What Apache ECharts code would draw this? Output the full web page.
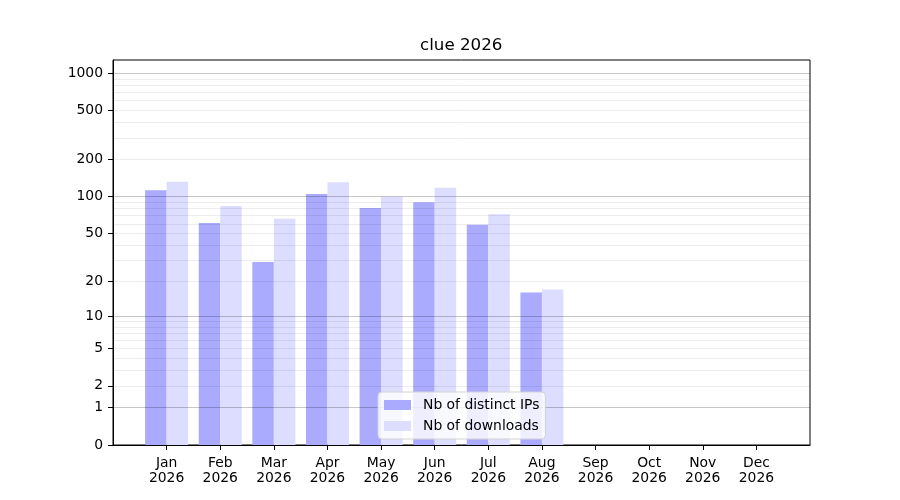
<!DOCTYPE html>
<html>
<head>
<meta charset="utf-8">
<script src="https://cdn.jsdelivr.net/npm/echarts@6/dist/echarts.min.js"></script>
<style>
  html, body { margin: 0; padding: 0; background: #fff; }
  #chart { width: 900px; height: 500px; }
</style>
</head>
<body>
<div id="chart"></div>
<script>
const months = ['Jan', 'Feb', 'Mar', 'Apr', 'May', 'Jun', 'Jul', 'Aug', 'Sep', 'Oct', 'Nov', 'Dec'];
const year = '2026';
const distinctIPs = [113, 61, 29, 105, 81, 90, 59, 16];
const downloads = [132, 84, 66, 131, 100, 118, 72, 17];
const labelTicks = [0, 1, 2, 5, 10, 20, 50, 100, 200, 500, 1000];
const majorGrid = [1, 10, 100, 1000];
const minorGrid = [2, 3, 4, 5, 6, 7, 8, 9, 20, 30, 40, 50, 60, 70, 80, 90, 200, 300, 400, 500, 600, 700, 800, 900];
const yTop = 1280;

// y scale is log10(v + 1)
const fwd = v => Math.log10(v + 1);
const back = t => Math.round(Math.pow(10, t) - 1);

// pad one empty slot each side so months sit one unit in from the frame
const cats = [''].concat(months, ['']);
const pad = arr => {
  const out = [null];
  months.forEach((m, i) => out.push(i < arr.length ? fwd(arr[i]) : null));
  out.push(null);
  return out;
};

const font = 'DejaVu Sans';
const chart = echarts.init(document.getElementById('chart'));

const hiddenAxis = (vals, color) => ({
  type: 'value', min: 0, max: fwd(yTop), position: 'left', z: 3,
  axisLine: { show: false },
  axisTick: { show: false, customValues: vals.map(fwd) },
  axisLabel: { show: false },
  splitLine: { show: true, lineStyle: { color: color, width: 1 } }
});

chart.setOption({
  animation: false,
  title: {
    text: 'clue ' + year,
    left: 420, top: 37, padding: 0,
    textStyle: { fontFamily: font, fontSize: 16.7, fontWeight: 'normal', color: '#000' }
  },
  legend: {
    orient: 'vertical',
    left: 378, top: 392,
    padding: [5, 6, 5, 6],
    itemWidth: 27, itemHeight: 10, itemGap: 5,
    icon: 'rect',
    backgroundColor: 'rgba(255,255,255,0.8)',
    borderColor: '#d3d3d3', borderWidth: 1, borderRadius: 4,
    textStyle: { fontFamily: font, fontSize: 13.9, color: '#000', lineHeight: 16, padding: [0, 0, 0, 7] },
    data: ['Nb of distinct IPs', 'Nb of downloads']
  },
  grid: {
    left: 113, right: 90, top: 60, bottom: 55,
    show: true, borderColor: '#000', borderWidth: 1
  },
  xAxis: {
    type: 'category',
    data: cats,
    boundaryGap: false,
    axisLine: { lineStyle: { color: '#000' } },
    axisTick: { length: 5, interval: (i) => i > 0 && i < cats.length - 1, lineStyle: { color: '#000' } },
    axisLabel: {
      interval: 0, margin: 11, color: '#000', fontFamily: font, fontSize: 13.9, lineHeight: 15,
      formatter: v => v ? v + '\n' + year : ''
    },
    splitLine: { show: false }
  },
  yAxis: [
    {
      type: 'value', min: 0, max: fwd(yTop), position: 'left',
      axisLine: { show: true, lineStyle: { color: '#000' } },
      axisTick: { show: true, length: 5, customValues: labelTicks.map(fwd), lineStyle: { color: '#000' } },
      axisLabel: {
        customValues: labelTicks.map(fwd), margin: 10, color: '#000', fontFamily: font, fontSize: 13.9,
        formatter: v => String(back(v))
      },
      splitLine: { show: false }
    },
    hiddenAxis(majorGrid, 'rgba(0,0,0,0.22)'),
    hiddenAxis(minorGrid, 'rgba(0,0,0,0.07)')
  ],
  series: [
    {
      name: 'Nb of distinct IPs', type: 'bar', yAxisIndex: 0,
      data: pad(distinctIPs), barWidth: 21.5, barGap: '0%',
      itemStyle: { color: '#aaaaff' }
    },
    {
      name: 'Nb of downloads', type: 'bar', yAxisIndex: 0,
      data: pad(downloads), barWidth: 21.5, barGap: '0%',
      itemStyle: { color: '#ddddff' }
    }
  ]
});
</script>
</body>
</html>
